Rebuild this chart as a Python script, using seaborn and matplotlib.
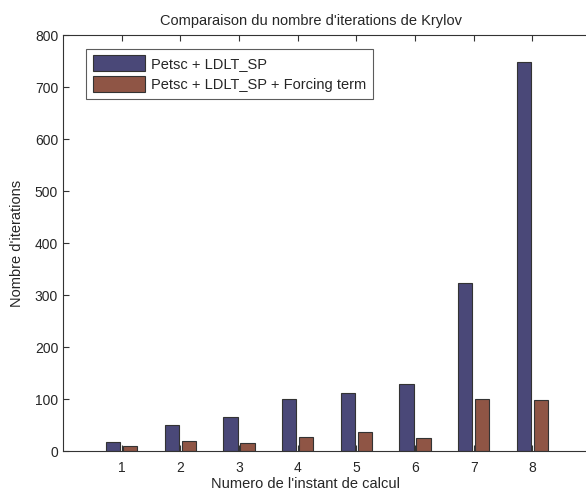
import numpy as np
import pandas as pd
import matplotlib
matplotlib.use("Agg")
import matplotlib.pyplot as plt
import seaborn as sns

sns.set_style("white")
plt.rcParams['font.family'] = ['Liberation Sans', 'DejaVu Sans']

# values
instants = [1, 2, 3, 4, 5, 6, 7, 8]
petsc_ldlt = [17, 50, 65, 100, 112, 129, 323, 748]
petsc_forcing = [10, 20, 15, 27, 37, 25, 100, 99]
series_names = ['Petsc + LDLT_SP', 'Petsc + LDLT_SP + Forcing term']
yticks = [0, 100, 200, 300, 400, 500, 600, 700, 800]

df = pd.DataFrame({
    'instant': instants * 2,
    'iterations': petsc_ldlt + petsc_forcing,
    'serie': [series_names[0]] * len(instants) + [series_names[1]] * len(instants),
})

fig = plt.figure(figsize=(5.86, 4.92), dpi=100)
ax = fig.add_axes([0.1075, 0.0833, 0.901, 0.8455])

sns.barplot(data=df, x='instant', y='iterations', hue='serie',
            palette=['#4a4878', '#8f5545'], width=0.58, gap=0.17,
            edgecolor='#333333', linewidth=0.8, saturation=1,
            native_scale=True, ax=ax)

ax.set_xlim(0, 9)
ax.set_ylim(0, 800)
ax.set_xticks(instants)
ax.set_yticks(yticks)
ax.tick_params(direction='in', length=4, labelsize=10, color='#333333',
               top=True, bottom=True, left=True, right=False)
ax.tick_params(axis='x', pad=7)
for s in ax.spines.values():
    s.set_color('#333333')
    s.set_linewidth(0.8)

ax.set_title("Comparaison du nombre d'iterations de Krylov", fontsize=10.5, x=0.47, pad=7)
ax.set_xlabel("Numero de l'instant de calcul", fontsize=10.5)
ax.xaxis.set_label_coords(0.46, -0.062)
ax.set_ylabel("Nombre d'iterations", fontsize=10.5)
ax.yaxis.set_label_coords(-0.074, 0.5)

leg = ax.legend(loc='upper left', bbox_to_anchor=(0.03, 0.985), fontsize=10.5,
                handlelength=3.6, handleheight=1.3, frameon=True, fancybox=False,
                borderpad=0.45, labelspacing=0.35, handletextpad=0.4)
leg.get_frame().set_edgecolor('#333333')
leg.get_frame().set_linewidth(0.8)
leg.set_title(None)

fig.savefig('out.png', dpi=100)
